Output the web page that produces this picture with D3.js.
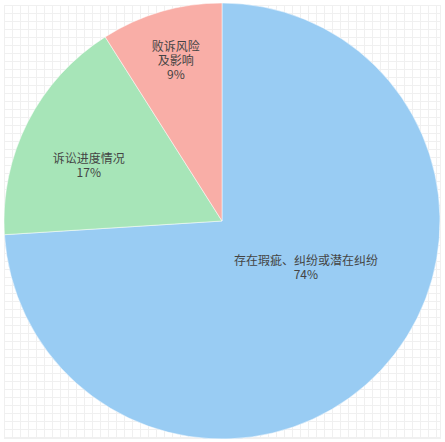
<!doctype html>
<html>
<head>
<meta charset="utf-8">
<script src="https://d3js.org/d3.v7.min.js"></script>
<style>
  html, body { margin: 0; padding: 0; background: #fff; }
  .chart { width: 445px; height: 442px; }
  text { font-family: "Noto Sans CJK SC", "Microsoft YaHei", sans-serif; font-size: 12px; fill: #444; }
</style>
</head>
<body>
<div class="chart"></div>
<script>
// chart data
var categories = ["存在瑕疵、纠纷或潜在纠纷", "诉讼进度情况", "败诉风险\n及影响"];
var values = [74, 17, 9];
var colors = ["#94c9f2", "#a2e4b4", "#f9aaa2"];
// small shifts so labels sit where the original put them
var labelNudge = [[-21, -52], [-5, 10], [-6, -22]];

var width = 445, height = 442;
var cx = 222, cy = 221, radius = 218;

var svg = d3.select('.chart')
  .append('svg')
  .attr('width', width)
  .attr('height', height);

// faint background grid
var gx = d3.range(4, 442, 8), gy = d3.range(5, 439, 8);
var grid = svg.append('g').attr('class', 'grid')
  .attr('stroke', '#f0f0f0').attr('stroke-width', 1);
grid.selectAll('.v').data(gx).enter().append('line')
  .attr('x1', function(d){ return d + 0.5; }).attr('x2', function(d){ return d + 0.5; })
  .attr('y1', 5).attr('y2', 439);
grid.selectAll('.h').data(gy).enter().append('line')
  .attr('y1', function(d){ return d + 0.5; }).attr('y2', function(d){ return d + 0.5; })
  .attr('x1', 4).attr('x2', 441);
grid.append('line').attr('x1', 440.5).attr('x2', 440.5).attr('y1', 5).attr('y2', 439);
grid.append('line').attr('y1', 438.5).attr('y2', 438.5).attr('x1', 4).attr('x2', 441);

var pie = d3.pie().sort(null).value(function(d){ return d; });
var arcs = pie(values);

var arc = d3.arc().innerRadius(0).outerRadius(radius);
var labelArc = d3.arc().innerRadius(radius * 0.66).outerRadius(radius * 0.66);

var g = svg.append('g').attr('transform', 'translate(' + cx + ',' + cy + ')');

g.selectAll('path')
  .data(arcs)
  .enter()
  .append('path')
  .attr('d', arc)
  .style('fill', function(d, i){ return colors[i]; })
  .style('fill-opacity', 0.95)
  .style('stroke', '#fff')
  .style('stroke-width', 0.5);

var labels = g.selectAll('.label')
  .data(arcs)
  .enter()
  .append('text')
  .attr('class', 'label')
  .attr('text-anchor', 'middle')
  .attr('transform', function(d, i){
    var c = labelArc.centroid(d);
    return 'translate(' + (c[0] + labelNudge[i][0]) + ',' + (c[1] + labelNudge[i][1]) + ')';
  });

labels.each(function(d, i){
  var lines = categories[i].split('\n').concat([values[i] + '%']);
  var t = d3.select(this);
  var top = -(lines.length - 1) * 14 / 2;
  lines.forEach(function(s, k){
    t.append('tspan')
      .attr('x', 0)
      .attr('y', top + k * 14)
      .attr('dy', '0.35em')
      .text(s);
  });
});
</script>
</body>
</html>
